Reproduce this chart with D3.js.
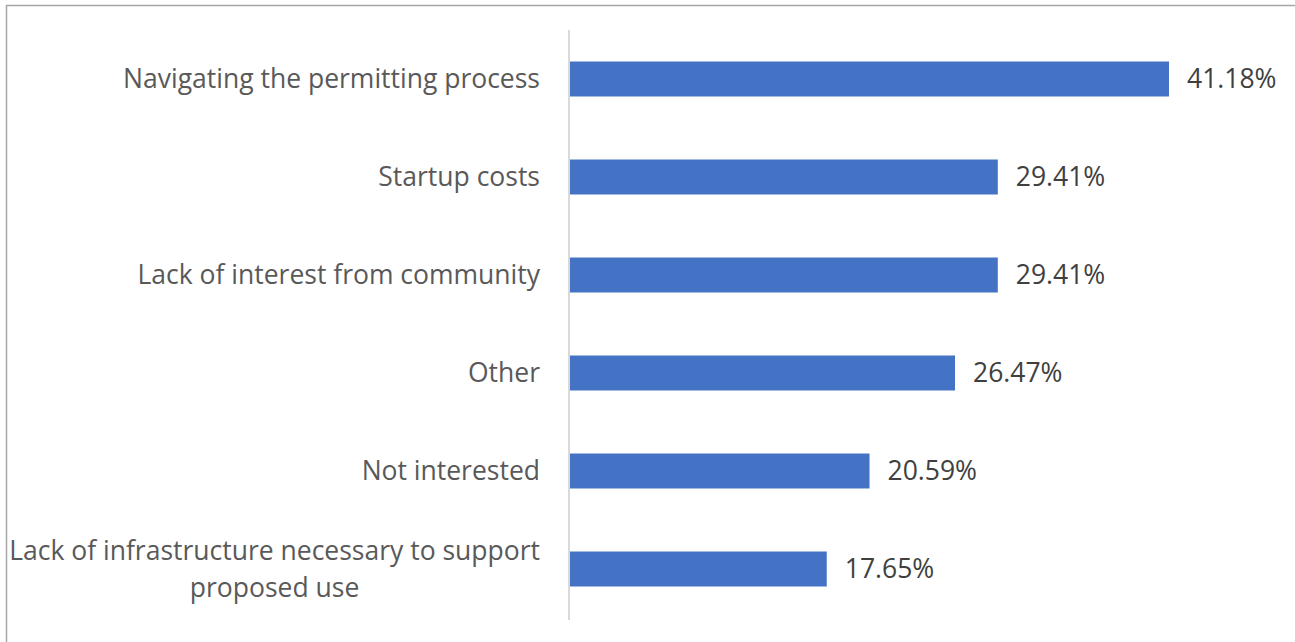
<!DOCTYPE html>
<html>
<head>
<meta charset="utf-8">
<script src="https://cdn.jsdelivr.net/npm/d3@7/dist/d3.min.js"></script>
<style>
  html, body { margin: 0; padding: 0; background: #fff; }
  svg { display: block; }
</style>
</head>
<body>
<script>
const categories = [
  "Navigating the permitting process",
  "Startup costs",
  "Lack of interest from community",
  "Other",
  "Not interested",
  "Lack of infrastructure necessary to support proposed use"
];
const values = [41.18, 29.41, 29.41, 26.47, 20.59, 17.65];
const valueLabels = ["41.18%", "29.41%", "29.41%", "26.47%", "20.59%", "17.65%"];

const W = 1295, H = 642;
const FONT = "'Open Sans', sans-serif";
const FS = 26.5;
const svg = d3.select("body").append("svg").attr("width", W).attr("height", H);

// frame (left & top edges visible)
svg.append("line").attr("x1", 6.5).attr("x2", 6.5).attr("y1", 5).attr("y2", H).attr("stroke", "#a6a6a6").attr("stroke-width", 1.5);
svg.append("line").attr("x1", 6).attr("x2", W).attr("y1", 5.5).attr("y2", 5.5).attr("stroke", "#a6a6a6").attr("stroke-width", 1.5);

const x = d3.scaleLinear().domain([0, 45]).range([570, 570 + 45 * 14.546]);
const y = d3.scaleBand().domain(categories).range([30, 618]).paddingInner(0.643).paddingOuter(0.3215);

svg.selectAll("rect.bar").data(values).join("rect")
  .attr("class", "bar")
  .attr("x", x(0))
  .attr("y", (d, i) => y(categories[i]))
  .attr("width", d => x(d) - x(0))
  .attr("height", y.bandwidth())
  .attr("fill", "#4472c4");

// axis line
const axis = svg.append("g").attr("transform", `translate(${x(0) - 1},0)`)
  .call(d3.axisLeft(y).tickSize(0).tickFormat(""));
axis.select(".domain").attr("stroke", "#d9d9d9").attr("stroke-width", 2).attr("d", "M0,30V620");

// category labels with wrapping
const maxW = 545, rightX = 540;
const lblG = svg.append("g");
function measure(s) {
  const p = lblG.append("text").attr("font-family", FONT).attr("font-size", FS).text(s);
  const w = p.node().getComputedTextLength(); p.remove(); return w;
}
categories.forEach((c, i) => {
  const cy = y(c) + y.bandwidth() / 2;
  const t = lblG.append("text").attr("font-family", FONT).attr("font-size", FS).attr("fill", "#595959");
  const words = c.split(" ");
  let lines = [], cur = [];
  words.forEach(w => {
    const test = cur.concat(w).join(" ");
    if (measure(test) > maxW && cur.length) { lines.push(cur.join(" ")); cur = [w]; }
    else cur.push(w);
  });
  lines.push(cur.join(" "));
  const blockW = d3.max(lines, measure);
  const lh = 37;
  lines.forEach((l, k) => {
    t.append("tspan")
      .attr("x", rightX - blockW / 2)
      .attr("y", cy + (k - (lines.length - 1) / 2) * lh)
      .attr("dy", "0.35em")
      .attr("text-anchor", "middle")
      .text(l);
  });
});

// value labels
svg.selectAll("text.val").data(values).join("text")
  .attr("class", "val")
  .attr("x", d => x(d) + 18)
  .attr("y", (d, i) => y(categories[i]) + y.bandwidth() / 2)
  .attr("dy", "0.35em")
  .attr("font-family", FONT).attr("font-size", FS).attr("fill", "#404040")
  .text((d, i) => valueLabels[i]);
</script>
</body>
</html>
